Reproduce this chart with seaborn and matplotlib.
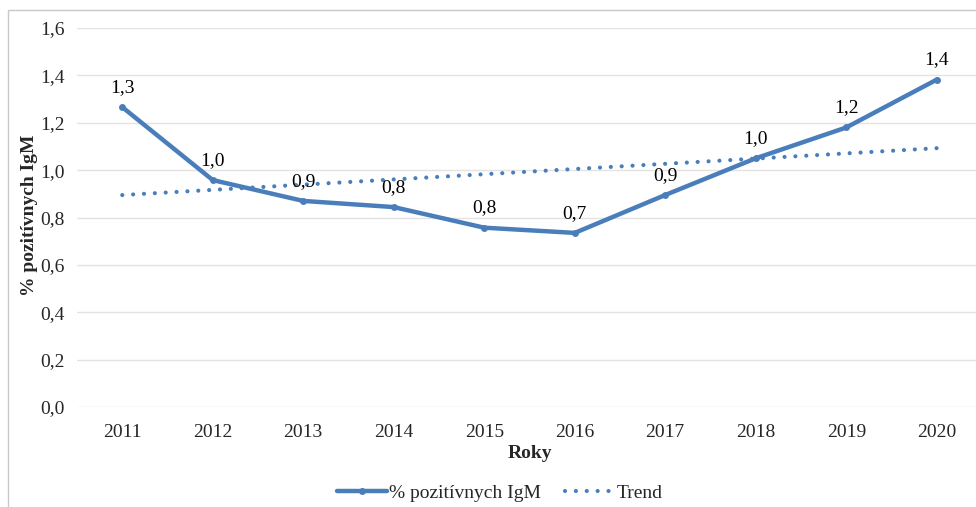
import numpy as np
import pandas as pd
import matplotlib
matplotlib.use("Agg")
import matplotlib.pyplot as plt
import seaborn as sns
from matplotlib.patches import Rectangle
from matplotlib.lines import Line2D

years = [2011, 2012, 2013, 2014, 2015, 2016, 2017, 2018, 2019, 2020]
values = [1.266, 0.958, 0.870, 0.844, 0.757, 0.735, 0.895, 1.050, 1.180, 1.382]
labels = ["1,3", "1,0", "0,9", "0,8", "0,8", "0,7", "0,9", "1,0", "1,2", "1,4"]
yticks = [0.0, 0.2, 0.4, 0.6, 0.8, 1.0, 1.2, 1.4, 1.6]
ytick_labels = ["0,0", "0,2", "0,4", "0,6", "0,8", "1,0", "1,2", "1,4", "1,6"]

sns.set_style("white")
plt.rcParams['font.family'] = ['Liberation Serif', 'DejaVu Serif']

color = "#4a7ebb"
x = np.arange(len(years))
df = pd.DataFrame({"x": x, "val": values})
coef = np.polyfit(x, values, 1)
df["trend"] = np.polyval(coef, x)

fig = plt.figure(figsize=(9.76, 5.07), dpi=100)
W, H = 976, 507
fig.patches.append(Rectangle((8 / W, -0.1), 1.2, 1 - 10 / H + 0.1, transform=fig.transFigure,
                             fill=False, edgecolor="#c8c8c8", linewidth=1.0))

left = 77 / W
right = 982 / W
bottom = 1 - 407 / H
top = 1 - 28 / H
ax = fig.add_axes([left, bottom, right - left, top - bottom])
ax.set_facecolor("none")

sns.lineplot(data=df, x="x", y="trend", ax=ax, color=color, linewidth=3.0,
             linestyle=(0, (0.01, 2.6)), legend=False)
ax.lines[-1].set_dash_capstyle("round")
sns.lineplot(data=df, x="x", y="val", ax=ax, color=color, linewidth=3.2,
             marker="o", markersize=5, markeredgewidth=0, legend=False)

for xi, v, lab in zip(x, values, labels):
    ax.annotate(lab, (xi, v), xytext=(0, 8), textcoords="offset points",
                ha="center", va="bottom", fontsize=14, color="#000000")

ax.set_xlim(-0.5, len(years) - 0.5)
ax.set_ylim(0, 1.6)
ax.set_yticks(yticks)
ax.set_yticklabels(ytick_labels, fontsize=14)
ax.set_xticks(x)
ax.set_xticklabels([str(y) for y in years], fontsize=14)
ax.tick_params(axis="x", length=0, pad=12)
ax.tick_params(axis="y", length=0, pad=9)
ax.grid(axis="y", color="#e3e3e3", linewidth=1.0)
ax.grid(axis="x", visible=False)
for s in ax.spines.values():
    s.set_visible(False)

ax.set_ylabel("")
ax.set_xlabel("Roky", fontsize=14, fontweight="bold", labelpad=3)
fig.text(30 / W, 1 - 215 / H, "% pozitívnych IgM", rotation=90, ha="center", va="center",
         fontsize=14, fontweight="bold")

line_h = Line2D([0], [0], color=color, linewidth=3.2, marker="o", markersize=5, markeredgewidth=0)
trend_h = Line2D([0], [0], color=color, linewidth=3.0, linestyle=(0, (0.01, 2.6)))
trend_h.set_dash_capstyle("round")
fig.legend([line_h, trend_h], ["% pozitívnych IgM", "Trend"], loc="center",
           bbox_to_anchor=(500 / W, 1 - 493 / H),
           ncol=2, frameon=False, fontsize=14, handlelength=2.6, handletextpad=0.1, columnspacing=1.2)

fig.savefig("out.png", dpi=100)
